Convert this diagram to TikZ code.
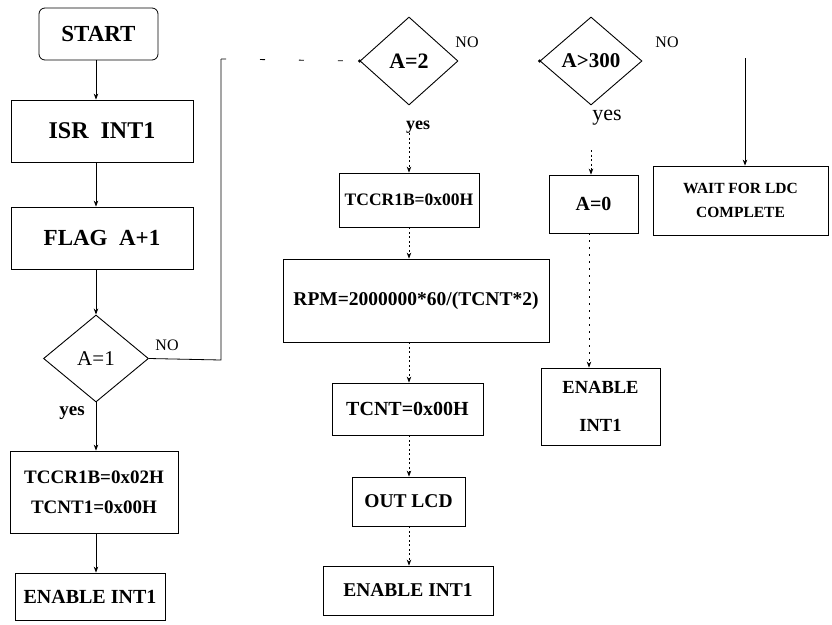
\documentclass[tikz,border=0pt]{standalone}
\usepackage{fontspec}
\setmainfont{Liberation Serif}
\usetikzlibrary{shapes.geometric,arrows.meta}
\newcommand\fsz[1]{\fontsize{#1}{#1}\selectfont}
\begin{document}
\begin{tikzpicture}[x=1pt,y=-1pt,
  box/.style={draw, line width=0.8pt, inner sep=0pt, align=center, font=\bfseries},
  dia/.style={draw, diamond, line width=0.9pt, inner sep=0pt},
  arr/.style={line width=0.8pt, -{Stealth[length=6pt,width=4.5pt]}},
  faint/.style={arr, dash pattern=on 2pt off 2.5pt},
  lbl/.style={inner sep=0pt},
  dotc/.style={circle, fill, inner sep=0pt, minimum size=3.5pt}]
\fill[white] (0,0) rectangle (832,624);
\useasboundingbox (0,0) rectangle (832,624);

% left column
\node[box, rounded corners=6pt, minimum width=119, minimum height=52] (start) at (98.5,34) {\fsz{23}START};
\node[box, minimum width=182, minimum height=62] (isr) at (102,131) {\fsz{24}ISR\ \ INT1};
\node[box, minimum width=182, minimum height=62] (flag) at (102,238) {\fsz{23}FLAG\ \ A+1};
\node[dia, minimum width=105, minimum height=87] (d1) at (96,358.5) {\fsz{21}A=1};
\node[lbl, font=\bfseries] (yes1) at (72,413) {\fsz{19}yes};
\node[lbl] (no1) at (167,345) {\fsz{16}NO};
\node[box, minimum width=168, minimum height=82] (tccr) at (94,492) {\fsz{19}TCCR1B=0x02H\\[16pt]\fsz{19}TCNT1=0x00H};
\node[box, minimum width=150, minimum height=47] (en1) at (90,596.5) {\fsz{20}ENABLE INT1};

\draw[arr] (start.south -| d1) -- (isr.north -| d1);
\draw[arr] (isr.south -| d1) -- (flag.north -| d1);
\draw[arr] (flag.south -| d1) -- (d1.north);
\draw[arr] (d1.south) -- (tccr.north -| d1);
\draw[arr] (tccr.south -| d1) -- (en1.north -| d1);

% NO branch of A=1
\coordinate (c1) at (221,360);
\coordinate (c2) at (221,59);

% middle column
\node[dia, minimum width=98, minimum height=88] (d2) at (409,61) {\bfseries\fsz{22}A=2};
\node[lbl] (no2) at (467,42) {\fsz{16}NO};
\node[lbl, font=\bfseries] (yes2) at (418,127) {\fsz{18}yes};
\node[box, minimum width=140, minimum height=54] (tccr2) at (409,200) {\fsz{17.5}TCCR1B=0x00H};
\node[box, minimum width=266, minimum height=83] (rpm) at (416,300.5) {\fsz{19.5}RPM=2000000*60/(TCNT*2)};
\node[box, minimum width=151, minimum height=52] (tcnt) at (407.5,409) {\fsz{20}TCNT=0x00H};
\node[box, minimum width=113, minimum height=49] (out) at (408.5,501.5) {\fsz{19.5}OUT LCD};
\node[box, minimum width=170, minimum height=49] (en2) at (408,590.5) {\fsz{19.5}ENABLE INT1};

\draw[line width=0.8pt] (d1.east) -- (c1) -- (c2);
\draw[line width=0.8pt, dash pattern=on 5pt off 34pt] (c2) -- (d2.west);
\node[dotc] (dot2) at (d2.west) {};

\draw[faint] (yes2.south -| d2) -- (tccr2.north -| d2);
\draw[faint] (tccr2.south -| d2) -- (rpm.north -| d2);
\draw[faint] (rpm.south -| d2) -- (tcnt.north -| d2);
\draw[faint] (tcnt.south -| d2) -- (out.north -| d2);
\draw[faint] (out.south -| d2) -- (en2.north -| d2);

% right columns
\node[dia, minimum width=102, minimum height=88] (d3) at (591,61) {\bfseries\fsz{21}A>300};
\node[dotc] (dot3) at (d3.west) {};
\node[lbl] (no3) at (667,42) {\fsz{16}NO};
\node[lbl] (yes3) at (607,118) {\fsz{22}yes};
\node[box, minimum width=89, minimum height=58] (a0) at (593.5,204) {\fsz{20}A=0};
\node[box, minimum width=119, minimum height=77] (en3) at (600.5,406.5) {\fsz{18.5}ENABLE\\[24pt]\fsz{18.5}INT1};
\node[box, minimum width=175, minimum height=69] (wait) at (740.5,200.5) {\fsz{15.5}WAIT FOR LDC\\[12pt]\fsz{15.5}COMPLETE};

\coordinate (c3) at (745,58);
\draw[arr] (c3) -- (wait.north -| c3);
\coordinate (y3) at (591,150);
\draw[faint] (y3) -- (a0.north -| y3);
\coordinate (a0b) at (589,233);
\draw[faint, dash pattern=on 2pt off 5pt] (a0b) -- (en3.north -| a0b);
\end{tikzpicture}
\end{document}
